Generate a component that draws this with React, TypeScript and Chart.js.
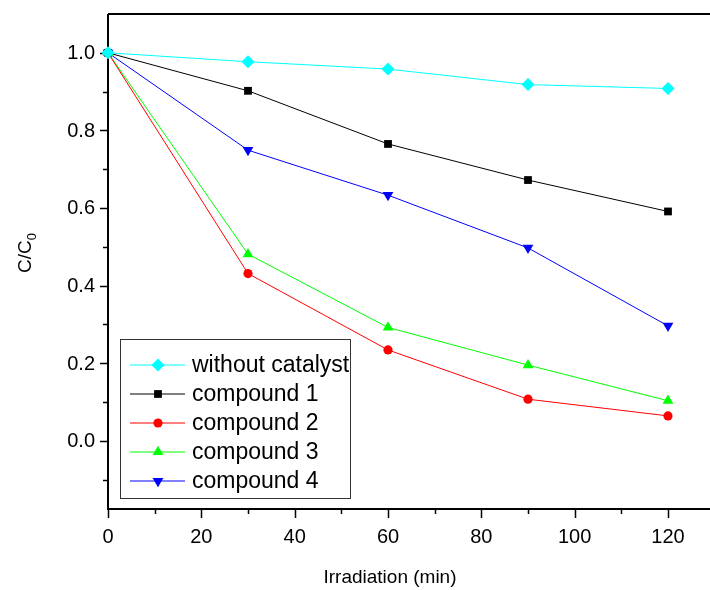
import React, { useEffect, useRef } from "react";
import { Chart, registerables } from "chart.js";
import { drawPoint } from "chart.js/helpers";

Chart.register(...registerables);

// Irradiation time (min)
const times = [0, 30, 60, 90, 120];

// C/C0 for each sample
const withoutCatalyst = [1.0, 0.977, 0.958, 0.918, 0.908];
const compound1 = [1.0, 0.902, 0.765, 0.672, 0.591];
const compound2 = [1.0, 0.431, 0.234, 0.107, 0.064];
const compound3 = [1.0, 0.481, 0.292, 0.195, 0.103];
const compound4 = [1.0, 0.749, 0.633, 0.497, 0.296];

const seriesNames = ["without catalyst", "compound 1", "compound 2", "compound 3", "compound 4"];
const seriesValues = [withoutCatalyst, compound1, compound2, compound3, compound4];

const xTicks = [0, 20, 40, 60, 80, 100, 120];
const xMinorTicks = [10, 30, 50, 70, 90, 110];
const yTicks = [0.0, 0.2, 0.4, 0.6, 0.8, 1.0];
const yMinorTicks = [-0.1, 0.1, 0.3, 0.5, 0.7, 0.9];

const FONT = "'Liberation Sans', Arial, Helvetica, sans-serif";

const styles = [
  { color: "#00FFFF", pointStyle: "rectRot", radius: 6.5, rotation: 0 },
  { color: "#000000", pointStyle: "rect", radius: 5.5, rotation: 0 },
  { color: "#FF0000", pointStyle: "circle", radius: 4.6, rotation: 0 },
  { color: "#00FF00", pointStyle: "triangle", radius: 6.2, rotation: 0 },
  { color: "#0000FF", pointStyle: "triangle", radius: 6.2, rotation: 180 },
];

const axesPlugin = {
  id: "originAxes",
  beforeDatasetsDraw(chart: any) {
    const { ctx, chartArea, scales } = chart;
    const xs = scales.x;
    const ys = scales.y;
    const { left, right, top, bottom } = chartArea;
    ctx.save();
    ctx.strokeStyle = "#000";
    ctx.lineWidth = 2;
    ctx.beginPath();
    ctx.moveTo(left, top);
    ctx.lineTo(right, top);
    ctx.moveTo(left, top);
    ctx.lineTo(left, bottom);
    ctx.moveTo(left - 1, bottom);
    ctx.lineTo(right, bottom);
    ctx.stroke();

    // ticks
    ctx.lineWidth = 1.5;
    ctx.beginPath();
    xTicks.forEach((v) => {
      const px = Math.round(xs.getPixelForValue(v)) + 0.5;
      ctx.moveTo(px, bottom);
      ctx.lineTo(px, bottom + 9);
    });
    xMinorTicks.forEach((v) => {
      const px = Math.round(xs.getPixelForValue(v)) + 0.5;
      ctx.moveTo(px, bottom);
      ctx.lineTo(px, bottom + 5);
    });
    yTicks.forEach((v) => {
      const py = Math.round(ys.getPixelForValue(v)) + 0.5;
      ctx.moveTo(left, py);
      ctx.lineTo(left - 8, py);
    });
    yMinorTicks.forEach((v) => {
      const py = Math.round(ys.getPixelForValue(v)) + 0.5;
      ctx.moveTo(left, py);
      ctx.lineTo(left - 5, py);
    });
    ctx.stroke();

    // tick labels
    ctx.fillStyle = "#000";
    ctx.font = `20px ${FONT}`;
    ctx.textAlign = "center";
    ctx.textBaseline = "middle";
    xTicks.forEach((v) => {
      ctx.fillText(String(v), xs.getPixelForValue(v), bottom + 28);
    });
    ctx.textAlign = "right";
    yTicks.forEach((v) => {
      ctx.fillText(v.toFixed(1), left - 13, ys.getPixelForValue(v) + 1);
    });

    // axis titles
    ctx.font = `19px ${FONT}`;
    ctx.textAlign = "center";
    ctx.fillText("Irradiation (min)", 390, 578);

    ctx.translate(26, 253);
    ctx.rotate(-Math.PI / 2);
    ctx.font = `19px ${FONT}`;
    const main = "C/C";
    const wMain = ctx.measureText(main).width;
    ctx.font = `13px ${FONT}`;
    const wSub = ctx.measureText("0").width;
    const start = -(wMain + wSub) / 2;
    ctx.textAlign = "left";
    ctx.font = `19px ${FONT}`;
    ctx.fillText(main, start, 0);
    ctx.font = `13px ${FONT}`;
    ctx.fillText("0", start + wMain, 6);
    ctx.restore();
  },
  afterDraw(chart: any) {
    const { ctx } = chart;
    ctx.save();
    const boxL = 120.5;
    const boxT = 339.5;
    const boxW = 230;
    const boxH = 159;
    ctx.fillStyle = "#fff";
    ctx.fillRect(boxL, boxT, boxW, boxH);
    ctx.strokeStyle = "#333";
    ctx.lineWidth = 1;
    ctx.strokeRect(boxL, boxT, boxW, boxH);
    ctx.font = `23px ${FONT}`;
    ctx.textAlign = "left";
    ctx.textBaseline = "middle";
    seriesNames.forEach((name, i) => {
      const s = styles[i];
      const y = 365 + i * 29;
      ctx.strokeStyle = s.color;
      ctx.lineWidth = 1;
      ctx.beginPath();
      ctx.moveTo(130, y);
      ctx.lineTo(185, y);
      ctx.stroke();
      ctx.fillStyle = s.color;
      drawPoint(
        ctx,
        { pointStyle: s.pointStyle, radius: s.radius, rotation: s.rotation, borderWidth: 0 } as any,
        158,
        y
      );
      ctx.fillStyle = "#000";
      ctx.fillText(name, 192, y + 1);
    });
    ctx.restore();
  },
};

export default function App() {
  const canvasRef = useRef<HTMLCanvasElement | null>(null);

  useEffect(() => {
    document.body.style.margin = "0";
    document.body.style.overflow = "hidden";
    const canvas = canvasRef.current;
    if (!canvas) return;
    const chart = new Chart(canvas, {
      type: "line",
      data: {
        datasets: seriesNames.map((name, i) => ({
          label: name,
          data: times.map((t, j) => ({ x: t, y: seriesValues[i][j] })),
          borderColor: styles[i].color,
          backgroundColor: styles[i].color,
          borderWidth: 1,
          pointStyle: styles[i].pointStyle as any,
          pointRadius: styles[i].radius,
          pointRotation: styles[i].rotation,
          pointBorderWidth: 0,
          pointBackgroundColor: styles[i].color,
          tension: 0,
          clip: false as any,
        })),
      },
      options: {
        animation: false,
        responsive: false,
        devicePixelRatio: 1,
        layout: { autoPadding: false, padding: { left: 108, top: 14, right: 0, bottom: 81 } },
        plugins: {
          legend: { display: false },
          tooltip: { enabled: false },
        },
        scales: {
          x: { type: "linear", min: 0, max: 129, display: false },
          y: { type: "linear", min: -0.176, max: 1.1, display: false },
        },
      },
      plugins: [axesPlugin],
    });
    return () => chart.destroy();
  }, []);

  return (
    <canvas
      ref={canvasRef}
      width={710}
      height={590}
      style={{ display: "block", width: 710, height: 590 }}
    />
  );
}
